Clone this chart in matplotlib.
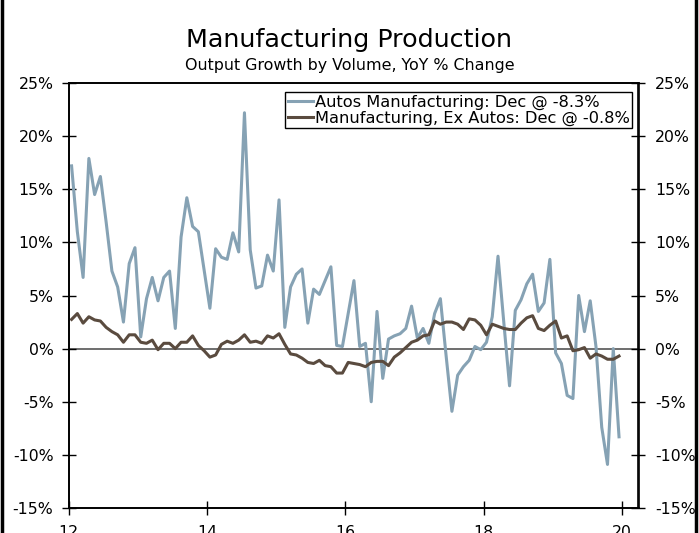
import matplotlib.pyplot as plt
from matplotlib.ticker import FuncFormatter, MultipleLocator
from matplotlib.lines import Line2D

# monthly YoY % change, Jan 2012 - Dec 2019
autos = [17.2, 11.0, 6.7, 17.9, 14.5, 16.2, 11.9, 7.3, 5.8, 2.5, 8.0, 9.5,
         1.1, 4.7, 6.7, 4.5, 6.7, 7.3, 1.9, 10.5, 14.2, 11.5, 11.0, 7.4,
         3.8, 9.4, 8.6, 8.4, 10.9, 9.1, 22.2, 9.3, 5.7, 5.9, 8.8, 7.3,
         14.0, 2.0, 5.8, 7.0, 7.5, 2.4, 5.6, 5.1, 6.4, 7.7, 0.3, 0.2,
         3.3, 6.4, 0.2, 0.5, -5.0, 3.5, -2.8, 0.9, 1.2, 1.4, 1.9, 4.0,
         1.0, 1.9, 0.5, 3.3, 4.7, -0.7, -5.9, -2.5, -1.7, -1.1, 0.2, -0.1,
         0.6, 3.0, 8.7, 2.5, -3.5, 3.6, 4.6, 6.1, 7.0, 3.5, 4.3, 8.4,
         -0.4, -1.4, -4.4, -4.7, 5.0, 1.6, 4.5, 0.2, -7.4, -10.9, 0.0, -8.3]

ex_autos = [2.75, 3.3, 2.4, 3.0, 2.7, 2.6, 2.0, 1.6, 1.3, 0.6, 1.3, 1.3,
            0.6, 0.5, 0.8, -0.1, 0.5, 0.5, 0.0, 0.6, 0.6, 1.2, 0.3, -0.2,
            -0.8, -0.6, 0.4, 0.7, 0.5, 0.8, 1.3, 0.6, 0.7, 0.5, 1.2, 1.0,
            1.4, 0.4, -0.5, -0.6, -0.9, -1.3, -1.4, -1.1, -1.6, -1.7, -2.3, -2.3,
            -1.3, -1.4, -1.5, -1.7, -1.3, -1.2, -1.2, -1.6, -0.8, -0.4, 0.1, 0.6,
            0.8, 1.2, 1.3, 2.6, 2.3, 2.5, 2.5, 2.3, 1.8, 2.8, 2.7, 2.2,
            1.3, 2.3, 2.1, 1.9, 1.8, 1.8, 2.4, 2.9, 3.1, 1.9, 1.7, 2.2,
            2.6, 1.0, 1.2, -0.2, -0.1, 0.1, -0.9, -0.5, -0.7, -1.0, -1.0, -0.7]

dates = [12 + (i + 0.5) / 12 for i in range(len(autos))]

label_autos = "Autos Manufacturing: Dec @ -8.3%"
label_ex = "Manufacturing, Ex Autos: Dec @ -0.8%"

W, H = 699, 533
fig = plt.figure(figsize=(W / 100, H / 100), dpi=100)
ax = fig.add_axes([68.7 / W, 1 - 508 / H, (638.5 - 68.7) / W, (508 - 83) / H])

ax.axhline(0, color='#555555', linewidth=1.2, zorder=1)
ax.plot(dates, autos, color='#86a2b4', linewidth=2.2, label=label_autos, zorder=2)
ax.plot(dates, ex_autos, color='#5a4b3f', linewidth=2.2, label=label_ex, zorder=3)

ax.set_xlim(12, 20.24)
ax.set_ylim(-15, 25)
ax.xaxis.set_major_locator(MultipleLocator(2))
ax.yaxis.set_major_locator(MultipleLocator(5))
ax.xaxis.set_major_formatter(FuncFormatter(lambda v, p: f"{v:.0f}"))
pct = FuncFormatter(lambda v, p: f"{v:.0f}%".replace("\u2212", "-"))
ax.yaxis.set_major_formatter(pct)

ax2 = ax.twinx()
ax2.set_ylim(-15, 25)
ax2.yaxis.set_major_locator(MultipleLocator(5))
ax2.yaxis.set_major_formatter(pct)

for a in (ax, ax2):
    for s in a.spines.values():
        s.set_linewidth(1.2)
        s.set_color('black')
    a.tick_params(direction='inout', length=10, width=1, labelsize=11.3, colors='black')
ax.tick_params(axis='y', pad=6)
ax2.tick_params(axis='y', pad=7)
ax.tick_params(axis='x', pad=7)

leg = ax.legend(loc='upper right', bbox_to_anchor=(632 / W, 1 - 92 / H),
                bbox_transform=fig.transFigure, borderaxespad=0,
                fontsize=11.7, handlelength=1.55, handletextpad=0.1,
                borderpad=0.15, labelspacing=0.05, fancybox=False,
                framealpha=1, edgecolor='black')
leg.get_frame().set_linewidth(1)

fig.text(0.5, 1 - 40 / H, "Manufacturing Production", ha='center', va='center', fontsize=18.3)
fig.text(0.5, 1 - 66 / H, "Output Growth by Volume, YoY % Change", ha='center', va='center', fontsize=11.4)

fig.add_artist(Line2D([1.5 / W, 1.5 / W], [0, 1], color='black', linewidth=2.5, transform=fig.transFigure))
fig.add_artist(Line2D([695.5 / W, 695.5 / W], [0, 1], color='black', linewidth=2.5, transform=fig.transFigure))

fig.savefig("out.png", dpi=100)
